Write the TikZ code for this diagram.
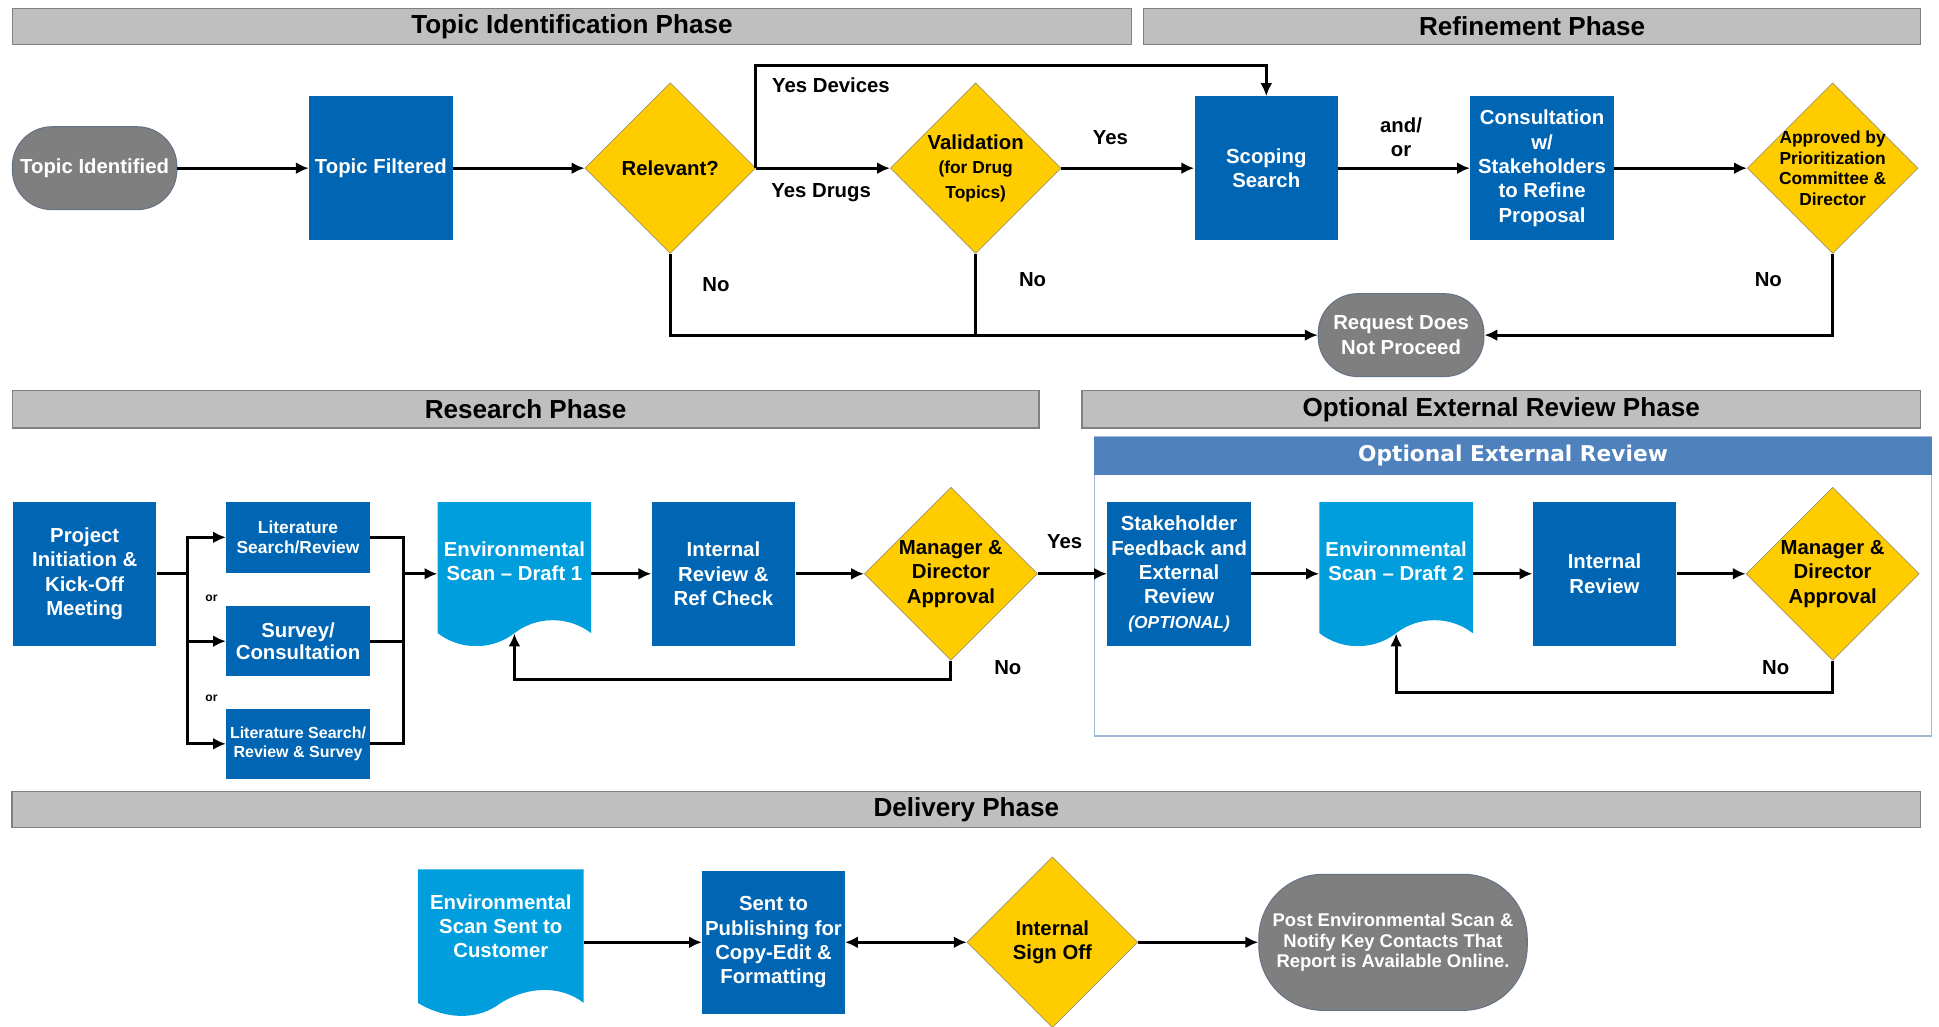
\documentclass[tikz,border=0pt]{standalone}
\usepackage{fontspec}
\setmainfont{Liberation Sans}
\newfontfamily\bandfont{DejaVu Sans}
\usepackage{tikz}
\usetikzlibrary{shapes}
\usetikzlibrary{arrows.meta}

\definecolor{boxblue}{RGB}{0,101,179}
\definecolor{docblue}{RGB}{0,158,220}
\definecolor{gold}{RGB}{255,204,0}
\definecolor{goldedge}{RGB}{160,150,110}
\definecolor{termgray}{RGB}{127,127,127}
\definecolor{termedge}{RGB}{100,115,135}
\definecolor{barfill}{RGB}{191,191,191}
\definecolor{baredge}{RGB}{128,128,128}
\definecolor{bandblue}{RGB}{79,129,189}
\definecolor{frameblue}{RGB}{160,185,215}

\newcommand{\notefont}{\fontsize{10}{12}\selectfont}

\begin{document}
\begin{tikzpicture}[x=0.025cm,y=-0.025cm]
\tikzstyle{line}=[line width=1.7pt]
\tikzstyle{connector}=[line, -{Latex[length=2.6mm,width=2.4mm]}]

% Define the phase bars
\tikzstyle{phase}=[rectangle, minimum height=0.725cm, draw=baredge, line width=0.8pt, fill=barfill, font=\bfseries\fontsize{15}{18}\selectfont]
% Define the process style for the blue steps
\tikzstyle{process}=[rectangle, minimum width=2.9cm, minimum height=2.9cm, inner sep=1pt, align=center, fill=boxblue, text=white, font=\bfseries\fontsize{11.7}{14}\selectfont]
\tikzstyle{subprocess}=[process, minimum height=1.425cm]
% Define the decision style for the yellow diamonds
\tikzstyle{decision}=[diamond, minimum width=3.45cm, minimum height=3.45cm, inner sep=0pt, align=center, fill=gold, draw=goldedge, line width=0.4pt, font=\bfseries\fontsize{11.7}{14}\selectfont]
% Define the start/stop style
\tikzstyle{terminal}=[rectangle, rounded corners=0.8cm, minimum width=3.325cm, minimum height=1.675cm, inner sep=2pt, align=center, fill=termgray, draw=termedge, line width=0.6pt, text=white, font=\bfseries\fontsize{11.7}{14}\selectfont]
% Define the document style (wavy bottom)
\tikzstyle{docshape}=[rectangle, minimum width=3.1cm, minimum height=2.9cm, inner sep=0pt, fill=white,
  path picture={
    \fill[docblue] (path picture bounding box.north west) -- (path picture bounding box.north east)
      -- ([yshift=0.25cm]path picture bounding box.south east)
      .. controls ([xshift=-0.45cm,yshift=0.6cm]path picture bounding box.south east)
         and ([xshift=-1.1cm,yshift=0.6cm]path picture bounding box.south east)
      .. ([yshift=0.25cm]path picture bounding box.south)
      .. controls ([xshift=-0.45cm,yshift=-0.1cm]path picture bounding box.south)
         and ([xshift=-1.1cm,yshift=-0.1cm]path picture bounding box.south)
      .. ([yshift=0.25cm]path picture bounding box.south west) -- cycle;
  }]
\tikzstyle{doctext}=[align=center, text=white, font=\bfseries\fontsize{11.7}{14}\selectfont]
\tikzstyle{lbl}=[align=center, inner sep=1pt, font=\bfseries\fontsize{11.7}{14}\selectfont]

\useasboundingbox (0,0) rectangle (1568,830);

% phase bars
\node (topicbar) [phase, minimum width=22.625cm] at (462.5,21.5) {Topic Identification Phase};
\node (refinebar) [phase, minimum width=15.7cm] at (1239,21.5) {Refinement Phase};
\node (researchbar) [phase, minimum width=20.75cm, minimum height=0.75cm] at (425,331) {Research Phase};
\node (optionalbar) [phase, minimum width=16.95cm, minimum height=0.75cm] at (1214,331) {Optional External Review Phase};
\node (deliverybar) [phase, minimum width=38.575cm, minimum height=0.625cm] at (781.5,654.5) {Delivery Phase};

% optional review frame
\node (reviewframe) [rectangle, draw=frameblue, line width=0.8pt, minimum width=16.925cm, minimum height=6.05cm] at (1223.5,474) {};
\node (reviewband) [rectangle, fill=bandblue, text=white, minimum width=16.925cm, minimum height=0.775cm, font=\bandfont\bfseries\fontsize{12.5}{15}\selectfont] at (1223.5,368.5) {Optional External Review};

% define the nodes of the topic and refinement phases
\node (topicid) [terminal] at (76.5,136) {Topic Identified};
\node (filtered) [process] at (308,136) {Topic Filtered};
\node (relevant) [decision] at (542,136) {Relevant?};
\node (validation) [decision] at (789,136) {Validation\\{\notefont (for Drug}\\{\notefont Topics)}};
\node (scoping) [process] at (1024,136) {Scoping\\Search};
\node (consult) [process] at (1247,136) {Consultation\\w/\\Stakeholders\\to Refine\\Proposal};
\node (approved) [decision, inner sep=-3pt, font=\bfseries\fontsize{10}{11.9}\selectfont] at (1482,136) {Approved by\\Prioritization\\Committee \&\\Director};
\node (request) [terminal, minimum width=3.35cm] at (1133,271) {Request Does\\Not Proceed};

% define the nodes of the research phase
\node (project) [process] at (68.5,464) {Project\\Initiation \&\\Kick-Off\\Meeting};
\node (litreview) [subprocess, font=\bfseries\fontsize{10}{12}\selectfont] at (241,434.5) {Literature\\Search/Review};
\node (survey) [subprocess, font=\bfseries\fontsize{11.7}{13}\selectfont] at (241,518.5) {Survey/\\Consultation};
\node (litsurvey) [subprocess, font=\bfseries\fontsize{9.2}{11.4}\selectfont] at (241,601.5) {Literature Search/\\Review \& Survey};
\node (draft1) [docshape, label={[doctext, name=draft1text, yshift=0.25cm]center:Environmental\\Scan – Draft 1}] at (416,464) {};
\node (internalref) [process] at (585,464) {Internal\\Review \&\\Ref Check};
\node (manager1) [decision, minimum width=3.5cm, minimum height=3.5cm] at (769,464) {Manager \&\\Director\\Approval};

% define the nodes of the optional external review
\node (stakeholder) [process] at (953.5,464) {Stakeholder\\Feedback and\\External\\Review\\{\notefont\itshape (OPTIONAL)}};
\node (draft2) [docshape, label={[doctext, name=draft2text, yshift=0.25cm]center:Environmental\\Scan – Draft 2}] at (1129,464) {};
\node (internal2) [process] at (1297.5,464) {Internal\\Review};
\node (manager2) [decision, minimum width=3.5cm, minimum height=3.5cm] at (1482,464) {Manager \&\\Director\\Approval};

% define the nodes of the delivery phase
\node (sentcust) [docshape, minimum width=3.35cm, minimum height=2.95cm, label={[doctext, name=sentcusttext, yshift=0.325cm]center:Environmental\\Scan Sent to\\Customer}] at (405,762) {};
\node (publishing) [process, minimum width=2.875cm] at (625.5,762) {Sent to\\Publishing for\\Copy-Edit \&\\Formatting};
\node (signoff) [decision] at (851,762) {Internal\\Sign Off};
\node (post) [terminal, rounded corners=1.3cm, minimum width=5.425cm, minimum height=2.75cm, font=\bfseries\fontsize{10.6}{12}\selectfont] at (1126.5,762) {Post Environmental Scan \&\\Notify Key Contacts That\\Report is Available Online.};

% labels on the connectors
\node (yesdevices) [lbl] at (672,69) {Yes Devices};
\node (yesdrugs) [lbl] at (664,156) {Yes Drugs};
\node (yesvalid) [lbl] at (898,111) {Yes};
\node (andor) [lbl] at (1133,111) {and/\\or};
\node (norelevant) [lbl] at (579,230) {No};
\node (novalid) [lbl] at (835,226) {No};
\node (noapproved) [lbl] at (1430,226) {No};
\node (orone) [lbl, font=\bfseries\fontsize{7}{8}\selectfont] at (171,484) {or};
\node (ortwo) [lbl, font=\bfseries\fontsize{7}{8}\selectfont] at (171,565) {or};
\node (yesmanager) [lbl] at (861,438) {Yes};
\node (nomanager) [lbl] at (815,540) {No};
\node (nomanagertwo) [lbl] at (1436,540) {No};

% define the arrows between the nodes
\coordinate (devicesturn) at (1024,53);
\draw[connector] (topicid) -- (filtered);
\draw[connector] (filtered) -- (relevant);
\draw[connector] (relevant) -- (validation);
\draw[connector] (relevant.east) |- (devicesturn) -- (scoping.north);
\draw[connector] (validation) -- (scoping);
\draw[connector] (scoping) -- (consult);
\draw[connector] (consult) -- (approved);
\draw[connector] (relevant.south) |- (request.west);
\draw[line] (validation.south) -- (validation.south |- request.west);
\draw[connector] (approved.south) |- (request.east);

\coordinate (split) at (152,464);
\coordinate (merge) at (326,464);
\draw[line] (project.east) -- (split);
\draw[connector] (split) |- (litreview.west);
\draw[connector] (split) |- (survey.west);
\draw[connector] (split) |- (litsurvey.west);
\draw[line] (litreview.east) -| (merge);
\draw[line] (survey.east) -| (merge);
\draw[line] (litsurvey.east) -| (merge);
\draw[connector] (merge) -- (draft1.west);
\draw[connector] (draft1) -- (internalref);
\draw[connector] (internalref) -- (manager1);
\draw[connector] (manager1.south) -- ++(0,15) -| ([yshift=0.25cm]draft1.south);
\draw[connector] (manager1) -- (stakeholder);
\draw[connector] (stakeholder) -- (draft2);
\draw[connector] (draft2) -- (internal2);
\draw[connector] (internal2) -- (manager2);
\draw[connector] (manager2.south) -- ++(0,26) -| ([yshift=0.25cm]draft2.south);

\draw[connector] (sentcust) -- (publishing);
\draw[line, {Latex[length=2.6mm,width=2.4mm]}-{Latex[length=2.6mm,width=2.4mm]}] (publishing) -- (signoff);
\draw[connector] (signoff) -- (post);

\end{tikzpicture}
\end{document}
